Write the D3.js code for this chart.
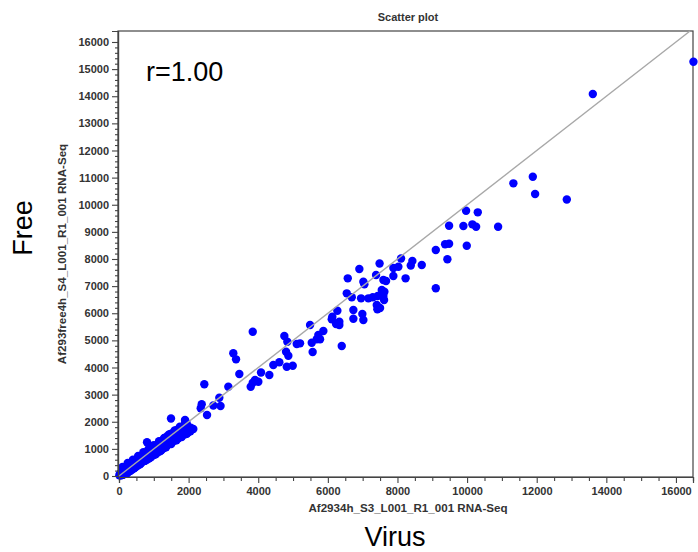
<!DOCTYPE html>
<html>
<head>
<meta charset="utf-8">
<script src="https://cdn.jsdelivr.net/npm/d3@7"></script>
<style>
  body { margin: 0; background: #fff; }
  svg text { font-family: "Liberation Sans", Arial, sans-serif; }
</style>
</head>
<body>
<svg id="chart" width="698" height="552"></svg>
<script>
// Expression per gene: Virus sample (x) vs Free sample (y)
const virus = [
  16503, 13612, 12865, 11954, 11888, 11330, 10891, 10307, 10259, 10152,
  9971, 9894, 9483, 9991, 9483, 9368, 9101, 9434, 9101, 8698,
  8428, 8382, 8103, 8026, 7882, 7486, 7595, 7672, 7882, 8233,
  7549, 7624, 7615, 7500, 6905, 7385, 6572, 7020, 7049, 6543,
  6687, 6954, 7164, 7290, 7434, 7595, 7405, 7422, 6733, 6991,
  7020, 6733, 6273, 6129, 6112, 6236, 6330, 6330, 5489, 5871,
  5727, 5681, 5776, 5537, 5201, 6399, 5563, 5106, 4750, 4836,
  4799, 4865, 4606, 4434, 4819, 4991, 3842, 3284, 3362, 3457,
  4080, 4319, 3908, 4003, 3842, 3784, 2451, 3141, 2882, 2376,
  2348, 2710, 2917, 2529, 1897, 1940, 2135, 1494, 805,
  10, 30, 50, 60, 80, 100, 110, 130, 150, 160,
  180, 200, 210, 230, 250, 260, 280, 300, 310, 330,
  350, 360, 380, 400, 410, 430, 450, 460, 480, 500,
  510, 530, 550, 560, 580, 600, 610, 630, 650, 660,
  680, 700, 720, 740, 760, 780, 800, 820, 840, 860,
  880, 900, 920, 940, 960, 980, 1000, 1020, 1040, 1060,
  1080, 1100, 1120, 1140, 1160, 1180, 1200, 1220, 1240, 1260,
  1280, 1300, 1320, 1340, 1360, 1380, 1400, 1420, 1440, 1460,
  1500, 1520, 1540, 1580, 1600, 1620, 1660, 1680, 1700, 1740,
  1760, 1800, 1840, 1860, 1900, 1960, 1980, 2000, 2060,
  100, 250, 400, 550, 700, 850, 1000, 1150, 1300, 1450,
  1600, 1750, 1900, 300, 450, 600, 750, 900, 1050, 1200,
  1350, 1500, 1650, 1800, 1950, 2050
];
const free = [
  15271, 14081, 10191, 10394, 11032, 10789, 9189, 9720, 9189, 9278,
  9779, 9215, 9226, 8489, 8563, 8541, 8330, 7988, 6919, 7777,
  7925, 7759, 8017, 7715, 7667, 7833, 7225, 7188, 7372, 7287,
  6856, 6793, 6487, 6192, 7630, 7409, 7287, 7162, 7066, 6734,
  6587, 6550, 6550, 6587, 6635, 6635, 6303, 6144, 6119, 5971,
  5750, 5798, 6093, 5872, 5776, 5603, 5688, 5566, 5566, 5345,
  5197, 5039, 5039, 4913, 4891, 4792, 4571, 4866, 5160, 4950,
  4582, 4434, 4191, 4091, 4029, 4066, 5319, 4523, 4301, 3760,
  3815, 3723, 3539, 3476, 3439, 3292, 3380, 3292, 2886, 2647,
  2495, 2599, 2580, 2248, 2064, 1954, 1732, 2119, 1246,
  30, 80, 20, 120, 60, 150, 40, 200, 90, 260,
  130, 300, 180, 100, 350, 220, 160, 400, 270, 190,
  450, 320, 240, 500, 360, 280, 560, 420, 330, 600,
  460, 380, 640, 520, 420, 700, 560, 470, 750, 600,
  520, 780, 640, 560, 850, 700, 600, 900, 740, 640,
  950, 800, 700, 1000, 860, 760, 1060, 900, 800, 1120,
  960, 860, 1180, 1000, 900, 1240, 1060, 960, 1300, 1120,
  1020, 1380, 1180, 1080, 1440, 1240, 1140, 1500, 1300, 1200,
  1560, 1360, 1260, 1620, 1420, 1320, 1700, 1480, 1380, 1760,
  1560, 1460, 1800, 1620, 1540, 1860, 1700, 1620, 1780,
  330, 480, 600, 740, 880, 1000, 1140, 1280, 1400, 1540,
  1680, 1820, 1960, 180, 300, 430, 560, 680, 800, 930,
  1060, 1180, 1320, 1440, 1560, 1650
];
const xTickValues = [0, 2000, 4000, 6000, 8000, 10000, 12000, 14000, 16000];
const yTickValues = [0, 1000, 2000, 3000, 4000, 5000, 6000, 7000, 8000, 9000,
  10000, 11000, 12000, 13000, 14000, 15000, 16000];
const chartTitle = "Scatter plot";
const xAxisTitle = "Af2934h_S3_L001_R1_001 RNA-Seq";
const yAxisTitle = "Af293free4h_S4_L001_R1_001 RNA-Seq";
const xGroupName = "Virus";
const yGroupName = "Free";
const corrLabel = "r=1.00";

const svg = d3.select("#chart");
const plotLeft = 118, plotRight = 693, plotTop = 31, plotBottom = 477;

const x = d3.scaleLinear().domain([0, 16490]).range([plotLeft + 1, plotRight]);
const y = d3.scaleLinear().domain([0, 16405]).range([plotBottom - 1, plotTop]);

// plot frame
svg.append("rect")
  .attr("x", plotLeft).attr("y", plotTop)
  .attr("width", plotRight - plotLeft).attr("height", plotBottom - plotTop)
  .attr("fill", "none").attr("stroke", "#444").attr("stroke-width", 1.2);

// points
svg.append("g").selectAll("circle")
  .data(d3.range(virus.length))
  .join("circle")
  .attr("cx", i => x(virus[i]))
  .attr("cy", i => y(free[i]))
  .attr("r", 4.2)
  .attr("fill", "#0000ff");

// identity line, drawn over the points
const lim = Math.min(x.domain()[1], y.domain()[1]);
svg.append("line")
  .attr("x1", x(0)).attr("y1", y(0))
  .attr("x2", x(lim)).attr("y2", y(lim))
  .attr("stroke", "#a8a8a8").attr("stroke-width", 1.4);

// axes with minor ticks
const minorX = d3.range(0, 16001, 500).filter(v => v % 2000 !== 0);
const minorY = d3.range(0, 16001, 200).filter(v => v % 1000 !== 0);

svg.append("g").attr("transform", `translate(0,${plotBottom})`)
  .call(d3.axisBottom(x).tickValues(minorX).tickSize(4).tickFormat(""));
svg.append("g").attr("transform", `translate(0,${plotBottom})`)
  .call(d3.axisBottom(x).tickValues(xTickValues).tickSize(6).tickPadding(4).tickFormat(d3.format("d")));

svg.append("g").attr("transform", `translate(${plotLeft},0)`)
  .call(d3.axisLeft(y).tickValues(minorY).tickSize(3).tickFormat(""));
svg.append("g").attr("transform", `translate(${plotLeft},0)`)
  .call(d3.axisLeft(y).tickValues(yTickValues).tickSize(6).tickPadding(3).tickFormat(d3.format("d")));

svg.selectAll(".domain").attr("stroke", "#444").attr("stroke-width", 1.2);
svg.selectAll(".tick line").attr("stroke", "#444").attr("stroke-width", 1.1);
svg.selectAll(".tick text")
  .attr("font-family", "Liberation Sans, Arial, sans-serif")
  .attr("font-size", 11).attr("font-weight", "bold").attr("fill", "#333");

// titles
svg.append("text").attr("x", 408).attr("y", 21)
  .attr("text-anchor", "middle").attr("font-size", 11).attr("font-weight", "bold")
  .attr("fill", "#333").text(chartTitle);
svg.append("text").attr("x", 408).attr("y", 512)
  .attr("text-anchor", "middle").attr("font-size", 11.6).attr("font-weight", "bold")
  .attr("fill", "#333").text(xAxisTitle);
svg.append("text")
  .attr("transform", `translate(66,254) rotate(-90)`)
  .attr("text-anchor", "middle").attr("font-size", 11.6).attr("font-weight", "bold")
  .attr("fill", "#333").text(yAxisTitle);

// group names and correlation
svg.append("text").attr("x", 395).attr("y", 546)
  .attr("text-anchor", "middle").attr("font-family", "Lato, sans-serif")
  .attr("font-size", 27).attr("fill", "#000").text(xGroupName);
svg.append("text")
  .attr("transform", `translate(32,228) rotate(-90)`)
  .attr("text-anchor", "middle").attr("font-family", "Lato, sans-serif")
  .attr("font-size", 27).attr("fill", "#000").text(yGroupName);
svg.append("text").attr("x", 146).attr("y", 81)
  .attr("font-family", "Lato, sans-serif")
  .attr("font-size", 27).attr("fill", "#000").text(corrLabel);
</script>
</body>
</html>
